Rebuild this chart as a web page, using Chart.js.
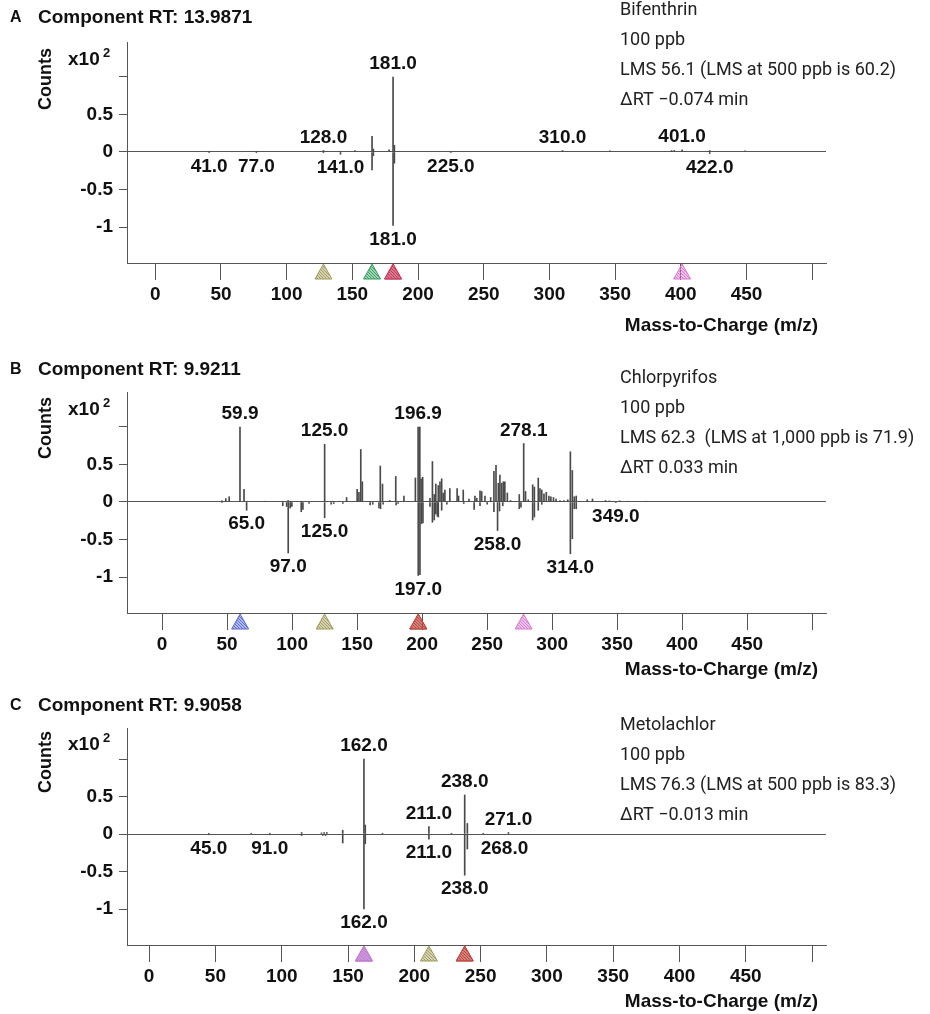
<!DOCTYPE html>
<html>
<head>
<meta charset="utf-8">
<script src="https://cdn.jsdelivr.net/npm/chart.js@4.4.1/dist/chart.umd.min.js"></script>
<style>
  html, body { margin: 0; padding: 0; background: #fff; }
  #wrap { position: relative; width: 930px; height: 1014px; overflow: hidden; }
  canvas { position: absolute; left: 0; }
</style>
</head>
<body>
<div id="wrap">
  <canvas id="chartA" width="930" height="350" style="top:0px"></canvas>
  <canvas id="chartB" width="930" height="332" style="top:350px"></canvas>
  <canvas id="chartC" width="930" height="332" style="top:682px"></canvas>
</div>
<script>
// Axis ticks (shared)
const xTickValues = [0, 50, 100, 150, 200, 250, 300, 350, 400, 450, 500];
const xTickLabels = ['0', '50', '100', '150', '200', '250', '300', '350', '400', '450', ''];
const yTickValues = [-1, -0.5, 0, 0.5, 1];
const yTickLabels = ['-1', '-0.5', '0', '0.5', ''];

// Panel A - Bifenthrin (upper = sample, lower = library)
const bifenTitle = 'Component RT: 13.9871';
const bifenNotes = ['Bifenthrin', '100 ppb', 'LMS 56.1 (LMS at 500 ppb is 60.2)', '\u0394RT \u22120.074 min'];
const bifenUpperMz  = [41, 77, 128, 141, 152, 165, 166, 178, 181, 182, 225, 310, 346, 393, 395, 401, 422, 449];
const bifenUpperInt = [0.01, 0.01, 0.02, 0.01, 0.02, 0.21, 0.04, 0.03, 1.0, 0.09, 0.01, 0.02, 0.015, 0.02, 0.02, 0.03, 0.02, 0.015];
const bifenLowerMz  = [41, 77, 128, 141, 165, 166, 181, 182, 225, 422];
const bifenLowerInt = [-0.01, -0.01, -0.01, -0.03, -0.24, -0.05, -0.98, -0.15, -0.01, -0.02];
const bifenUpperLabels = [128, 181, 310, 401];
const bifenLowerLabels = [41, 77, 141, 181, 225, 422];
const bifenMarkers = [128, 165, 181, 181, 401];

// Panel B - Chlorpyrifos
const chlorTitle = 'Component RT: 9.9211';
const chlorNotes = ['Chlorpyrifos', '100 ppb', 'LMS 62.3  (LMS at 1,000 ppb is 71.9)', '\u0394RT 0.033 min'];
const chlorUpperMz  = [46, 49, 51.6, 59.9, 63, 76, 79, 93, 97, 107, 125, 131, 136, 141.9, 150, 151.4, 152.8, 154, 160,
  167.8, 169.5, 175, 179.7, 186, 194.8, 196.9, 198.2, 199.2, 200.4, 206, 207.9, 209.3, 210.5, 212.4, 213.7, 215, 216.2,
  217.5, 221.3, 226.9, 228, 231.6, 236, 240.6, 242, 244.5, 245.8, 248.3, 252.7, 255.2, 256.8, 258.6, 259.8, 261.1, 262.4,
  263.6, 265.5, 268, 274.7, 278.1, 279.5, 281.6, 285, 286.3, 289.3, 290.6, 292, 293.7, 295.5, 297.5, 299, 301, 303, 306,
  309, 312, 314, 315.5, 317, 318.5, 327, 331, 341, 344, 352, 358, 366, 372];
const chlorUpperInt = [0.015, 0.045, 0.07, 1.0, 0.17, 0.01, 0.01, 0.01, 0.02, 0.01, 0.77, 0.01, 0.01, 0.06, 0.17, 0.13, 0.70, 0.27, 0.01,
  0.48, 0.24, 0.02, 0.34, 0.08, 0.32, 1.0, 1.0, 0.31, 0.33, 0.05, 0.54, 0.10, 0.24, 0.22, 0.27, 0.31, 0.12,
  0.16, 0.18, 0.18, 0.08, 0.16, 0.04, 0.08, 0.05, 0.15, 0.14, 0.08, 0.06, 0.41, 0.49, 0.25, 0.36, 0.25, 0.27,
  0.27, 0.12, 0.02, 0.10, 0.78, 0.14, 0.03, 0.23, 0.20, 0.32, 0.18, 0.16, 0.11, 0.13, 0.08, 0.07, 0.06, 0.04, 0.02,
  0.02, 0.03, 0.67, 0.42, 0.07, 0.08, 0.03, 0.04, 0.02, 0.015, 0.015, 0.01, 0.01, 0.01];
const chlorLowerMz  = [46, 65, 92.8, 95.8, 97, 98.5, 99.8, 107, 108.3, 113, 125, 130, 132, 139, 160, 162, 166.8, 168, 170, 180,
  181.5, 197, 198.3, 199.4, 200.6, 206, 207.9, 209.3, 210.5, 211.7, 212.4, 215, 219, 232, 240, 244.5, 250, 255.2, 258,
  259.5, 262, 274.7, 276, 285, 286.3, 289.3, 292, 314, 315.5, 317, 318.5, 349];
const chlorLowerInt = [-0.01, -0.11, -0.05, -0.06, -0.68, -0.08, -0.06, -0.13, -0.10, -0.02, -0.21, -0.03, -0.02, -0.02, -0.04, -0.03, -0.08, -0.09, -0.03, -0.04,
  -0.02, -0.98, -0.97, -0.29, -0.28, -0.06, -0.27, -0.24, -0.16, -0.19, -0.20, -0.11, -0.03, -0.02, -0.10, -0.05, -0.03, -0.13, -0.38,
  -0.12, -0.05, -0.09, -0.07, -0.24, -0.20, -0.11, -0.03, -0.69, -0.49, -0.09, -0.09, -0.01];
const chlorUpperLabels = [59.9, 125, 196.9, 278.1];
const chlorLowerLabels = [65, 97, 125, 197, 258, 314, 349];
const chlorMarkers = [60, 125, 197, 197, 278];

// Panel C - Metolachlor
const metoTitle = 'Component RT: 9.9058';
const metoNotes = ['Metolachlor', '100 ppb', 'LMS 76.3 (LMS at 500 ppb is 83.3)', '\u0394RT \u22120.013 min'];
const metoUpperMz  = [45, 77, 91, 115, 130, 132, 134, 146, 162, 163, 176, 211, 228, 238, 240, 252, 271];
const metoUpperInt = [0.01, 0.01, 0.01, 0.02, 0.015, 0.02, 0.02, 0.05, 1.0, 0.12, 0.01, 0.10, 0.01, 0.52, 0.14, 0.01, 0.02];
const metoLowerMz  = [45, 91, 115, 131, 133, 146, 162, 163, 211, 238, 240, 268];
const metoLowerInt = [-0.01, -0.01, -0.02, -0.02, -0.02, -0.12, -1.0, -0.13, -0.07, -0.55, -0.20, -0.01];
const metoUpperLabels = [162, 211, 238, 271];
const metoLowerLabels = [45, 91, 162, 211, 238, 268];
const metoMarkers = [162, 162, 211, 238, 238];

// Styles
const INK = '#111';
const STICK = '#4a4a4a';
const AXIS = '#555';
const BASELINE = '#555';
const BOLD = '"Liberation Sans", Arial, sans-serif';
const NOTE = 'Roboto, "Noto Sans", sans-serif';
const PX_PER_UNIT = 75;
const ION = { blue: '#5468d4', olive: '#a09a58', green: '#2f9e5a', red: '#e8323c', pink: '#d878cc' };

const panels = [
  { id: 'chartA', letter: 'A', title: bifenTitle, notes: bifenNotes,
    upperMz: bifenUpperMz, upperInt: bifenUpperInt, lowerMz: bifenLowerMz, lowerInt: bifenLowerInt,
    upperLabels: bifenUpperLabels, lowerLabels: bifenLowerLabels, markers: bifenMarkers,
    markerColors: [ION.olive, ION.green, ION.blue, ION.red, ION.pink],
    xMin: -21.5, xMax: 510.5,
    box: { canvasH: 350, top: 42, bottom: 263, zero: 152, left: 127, right: 826,
           titleY: 18, noteY: 10, expY: 60, countsY: 79, xTitleY: 326 } },
  { id: 'chartB', letter: 'B', title: chlorTitle, notes: chlorNotes,
    upperMz: chlorUpperMz, upperInt: chlorUpperInt, lowerMz: chlorLowerMz, lowerInt: chlorLowerInt,
    upperLabels: chlorUpperLabels, lowerLabels: chlorLowerLabels, markers: chlorMarkers,
    markerColors: [ION.blue, ION.olive, ION.green, ION.red, ION.pink],
    xMin: -27, xMax: 510.6,
    box: { canvasH: 332, top: 42, bottom: 263, zero: 152, left: 127, right: 826,
           titleY: 20, noteY: 28, expY: 60, countsY: 78, xTitleY: 320 } },
  { id: 'chartC', letter: 'C', title: metoTitle, notes: metoNotes,
    upperMz: metoUpperMz, upperInt: metoUpperInt, lowerMz: metoLowerMz, lowerInt: metoLowerInt,
    upperLabels: metoUpperLabels, lowerLabels: metoLowerLabels, markers: metoMarkers,
    markerColors: [ION.blue, ION.pink, ION.olive, ION.green, ION.red],
    xMin: -16.7, xMax: 510.5,
    box: { canvasH: 332, top: 46, bottom: 263, zero: 152, left: 127, right: 826,
           titleY: 24, noteY: 43, expY: 63, countsY: 80, xTitleY: 320 } }
];

const intensityAt = (mzs, ints, mz) => {
  const i = mzs.indexOf(mz);
  return i >= 0 ? ints[i] : 0;
};

// small diagonal hatch like the instrument software draws in its ion markers
const hatch = (g, col) => {
  const c = document.createElement('canvas');
  c.width = c.height = 3;
  const h = c.getContext('2d');
  h.fillStyle = col;
  h.fillRect(0, 0, 1, 1);
  h.fillRect(1, 1, 1, 1);
  h.fillRect(2, 2, 1, 1);
  return g.createPattern(c, 'repeat');
};

const makeSpectrum = (p) => {
  const b = p.box;
  const decor = {
    id: 'decor' + p.letter,
    afterDatasetsDraw(chart) {
      const g = chart.ctx, xs = chart.scales.x, ys = chart.scales.y, a = chart.chartArea;
      g.save();

      // peak labels
      g.font = 'bold 19px ' + BOLD;
      g.fillStyle = INK;
      g.textAlign = 'center';
      g.textBaseline = 'alphabetic';
      p.upperLabels.forEach(mz => {
        const v = intensityAt(p.upperMz, p.upperInt, mz);
        g.fillText(mz.toFixed(1), xs.getPixelForValue(mz), ys.getPixelForValue(v) - 8);
      });
      p.lowerLabels.forEach(mz => {
        const v = intensityAt(p.lowerMz, p.lowerInt, mz);
        g.fillText(mz.toFixed(1), xs.getPixelForValue(mz), ys.getPixelForValue(v) + 19);
      });

      // ion markers under the axis
      p.markers.forEach((mz, i) => {
        const x = xs.getPixelForValue(mz), y0 = a.bottom + 1;
        const col = p.markerColors[i];
        g.beginPath();
        g.moveTo(x, y0);
        g.lineTo(x + 8.5, y0 + 15);
        g.lineTo(x - 8.5, y0 + 15);
        g.closePath();
        g.globalAlpha = 0.45;
        g.fillStyle = col;
        g.fill();
        g.globalAlpha = 0.9;
        g.fillStyle = hatch(g, col);
        g.fill();
        g.globalAlpha = 1;
        g.strokeStyle = col;
        g.lineWidth = 1;
        g.stroke();
      });

      // titles and side notes
      g.textAlign = 'left';
      g.textBaseline = 'middle';
      g.fillStyle = INK;
      g.font = 'bold 16px ' + BOLD;
      g.fillText(p.letter, 10, b.titleY);
      g.font = 'bold 19px ' + BOLD;
      g.fillText(p.title, 38, b.titleY);
      g.fillText('x10', 68, b.expY);
      g.font = 'bold 13px ' + BOLD;
      g.fillText('2', 103, b.expY - 7);

      g.save();
      g.translate(46, b.countsY);
      g.rotate(-Math.PI / 2);
      g.textAlign = 'center';
      g.font = 'bold 18px ' + BOLD;
      g.fillText('Counts', 0, 0);
      g.restore();

      g.textAlign = 'right';
      g.font = 'bold 19px ' + BOLD;
      g.fillText('Mass-to-Charge (m/z)', 818, b.xTitleY);

      g.textAlign = 'left';
      g.font = '18px ' + NOTE;
      g.fillStyle = '#222';
      p.notes.forEach((t, i) => g.fillText(t, 620, b.noteY + 30 * i));

      g.restore();
    }
  };

  return new Chart(document.getElementById(p.id), {
    type: 'bar',
    data: {
      datasets: [
        { data: p.upperMz.map((x, i) => ({ x, y: p.upperInt[i] })), backgroundColor: STICK,
          barThickness: 1, grouped: false, borderWidth: 0 },
        { data: p.lowerMz.map((x, i) => ({ x, y: p.lowerInt[i] })), backgroundColor: STICK,
          barThickness: 1, grouped: false, borderWidth: 0 }
      ]
    },
    options: {
      responsive: false,
      animation: false,
      devicePixelRatio: 1,
      layout: { autoPadding: false, padding: { top: b.top, left: 0, right: 930 - b.right, bottom: 0 } },
      plugins: { legend: { display: false }, tooltip: { enabled: false } },
      scales: {
        x: {
          type: 'linear', min: p.xMin, max: p.xMax, offset: false,
          afterBuildTicks: s => { s.ticks = xTickValues.map(v => ({ value: v })); },
          afterFit: s => { s.height = b.canvasH - b.bottom; },
          ticks: {
            callback: v => xTickLabels[xTickValues.indexOf(v)],
            font: { family: BOLD, size: 19, weight: 'bold' }, color: INK,
            padding: 3, maxRotation: 0, autoSkip: false
          },
          grid: { offset: false, drawOnChartArea: false, tickLength: 17, tickColor: AXIS, lineWidth: 1 },
          border: { color: AXIS, width: 1 }
        },
        y: {
          min: -(b.bottom - b.zero) / PX_PER_UNIT,
          max: (b.zero - b.top) / PX_PER_UNIT,
          afterBuildTicks: s => { s.ticks = yTickValues.map(v => ({ value: v })); },
          afterFit: s => { s.width = b.left; },
          ticks: {
            callback: v => yTickLabels[yTickValues.indexOf(v)],
            font: { family: BOLD, size: 19, weight: 'bold' }, color: INK, padding: 6
          },
          grid: {
            color: c => (c.tick && c.tick.value === 0 ? BASELINE : 'rgba(0,0,0,0)'),
            tickColor: AXIS, tickLength: 8, lineWidth: 1
          },
          border: { color: AXIS, width: 1 }
        }
      }
    },
    plugins: [decor]
  });
};

panels.forEach(makeSpectrum);
</script>
</body>
</html>
